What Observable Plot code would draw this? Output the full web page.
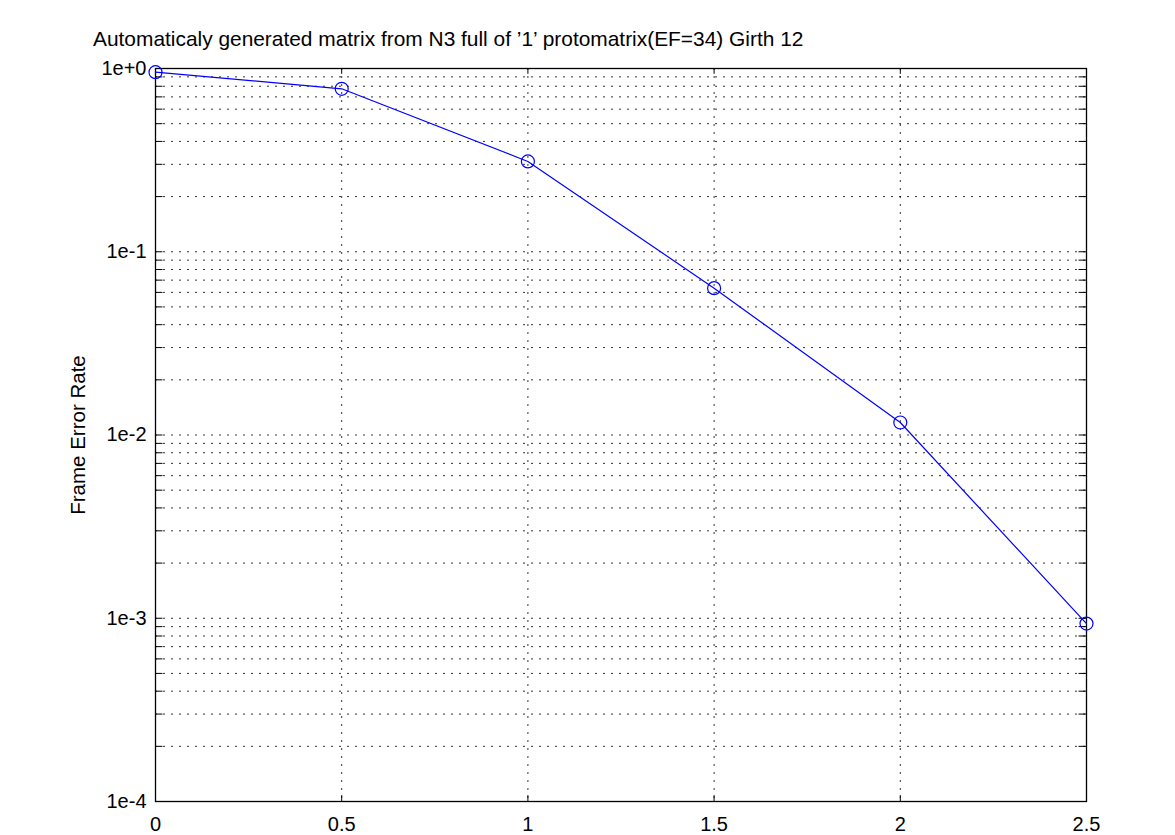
<!DOCTYPE html>
<html>
<head>
<meta charset="utf-8">
<script src="https://cdn.jsdelivr.net/npm/d3@7"></script>
<script src="https://cdn.jsdelivr.net/npm/@observablehq/plot@0.6"></script>
<style>
  body { margin: 0; background: #fff; font-family: "Liberation Sans", Arial, sans-serif; }
  #wrap { position: relative; width: 1175px; height: 835px; }
  #title { position: absolute; left: 93px; top: 27px; font-size: 20.9px; white-space: nowrap; color: #000; }
</style>
</head>
<body>
<div id="wrap">
  <div id="title">Automaticaly generated matrix from N3 full of ’1’ protomatrix(EF=34) Girth 12</div>
  <div id="chart"></div>
</div>
<script>
const snr = [0, 0.5, 1, 1.5, 2, 2.5];
const fer = [0.955, 0.775, 0.311, 0.0633, 0.0117, 0.000935];
const xTicks = [0, 0.5, 1, 1.5, 2, 2.5];
const yMajor = [1, 0.1, 0.01, 0.001, 0.0001];
const yLabels = ["1e+0", "1e-1", "1e-2", "1e-3", "1e-4"];
const yTitle = "Frame Error Rate";

const data = snr.map((x, i) => ({x, y: fer[i]}));
const minor = [];
for (const m of yMajor.slice(1)) for (let k = 1; k <= 9; k++) minor.push(m * k);
const gridY = minor.filter(v => v <= 1 && v > 1e-4);
const xDom = [0, 2.5];
const tickLen = (xDom[1] - xDom[0]) * 0.008;
const yDom = [1e-4, 1];
const yTickLen = Math.pow(10, 4 * 0.008);

const chart = Plot.plot({
  width: 1175,
  height: 835,
  marginLeft: 155,
  marginRight: 89,
  marginTop: 68,
  marginBottom: 34,
  style: {fontFamily: "Liberation Sans, Arial, sans-serif", fontSize: "20px", color: "#000", background: "#fff"},
  x: {domain: xDom, type: "linear"},
  y: {type: "log", domain: yDom},
  marks: [
    Plot.ruleY(gridY, {stroke: "#000", strokeOpacity: 0.8, strokeDasharray: "2,6", strokeWidth: 1}),
    Plot.ruleX(xTicks, {stroke: "#000", strokeOpacity: 0.8, strokeDasharray: "2,6", strokeWidth: 1}),
    Plot.ruleY(gridY, {x1: xDom[0], x2: xDom[0] + tickLen, stroke: "#000", strokeWidth: 1}),
    Plot.ruleY(gridY, {x1: xDom[1] - tickLen, x2: xDom[1], stroke: "#000", strokeWidth: 1}),
    Plot.ruleX(xTicks, {y1: yDom[0], y2: yDom[0] * yTickLen, stroke: "#000", strokeWidth: 1}),
    Plot.ruleX(xTicks, {y1: yDom[1] / yTickLen, y2: yDom[1], stroke: "#000", strokeWidth: 1}),
    Plot.frame({stroke: "#000", strokeWidth: 1.3}),
    Plot.axisY(yMajor, {tickSize: 0, tickPadding: 9, tickFormat: d => yLabels[yMajor.indexOf(d)], label: null, fontSize: 20}),
    Plot.axisX(xTicks, {tickSize: 0, tickPadding: 15, tickFormat: d => String(d), label: null, fontSize: 20}),
    Plot.text([yTitle], {frameAnchor: "left", dx: -77, rotate: -90, textAnchor: "middle", lineAnchor: "middle", fontSize: 20.5, text: d => d}),
    Plot.line(data, {x: "x", y: "y", stroke: "#0000ff", strokeWidth: 1.2}),
    Plot.dot(data, {x: "x", y: "y", r: 6.5, stroke: "#0000ff", fill: "none", strokeWidth: 1.2})
  ]
});
document.getElementById("chart").appendChild(chart);
</script>
</body>
</html>
